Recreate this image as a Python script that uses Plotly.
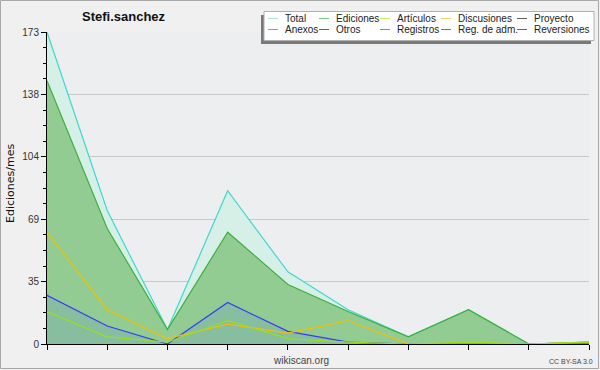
import plotly.graph_objects as go

# ---- data ----
months = ["M01", "M02", "M03", "M04", "M05", "M06", "M07", "M08", "M09", "M10"]
total = [173, 74, 8, 85, 40, 19, 4, 19, 0, 1]
ediciones = [146, 64, 8, 62, 33, 18, 4, 19, 0, 1]
registros = [27, 10, 0, 23, 7, 1, 0, 0, 0, 0]
articulos = [18, 4, 1, 13, 3, 1, 0, 1, 0, 1]
discusiones = [62, 19, 3, 11, 6, 13, 0, 0, 0, 1]

legend_names = ["Total", "Ediciones", "Artículos", "Discusiones", "Proyecto",
                "Anexos", "Otros", "Registros", "Reg. de adm.", "Reversiones"]
legend_colors = ["#a8e4e0", "#7cc87c", "#c4ec5c", "#f8d060", "#606060",
                 "#f08040", "#8040e0", "#8080f0", "#c040e0", "#e03030"]

y_max = 173
y_ticks = [0, 34.6, 69.2, 103.8, 138.4, 173]
y_ticktext = ["0", "35", "69", "104", "138", "173"]

W, H = 600, 370
L, R, T, B = 47, 589, 32, 344

def px(x):
    return (x - L) / (R - L)

def py(y):
    return (B - y) / (B - T)

fig = go.Figure()
fig.add_trace(go.Scatter(x=months, y=total, mode="lines", fill="tozeroy",
                         fillcolor="rgb(214,240,232)", line=dict(color="#40d8cc", width=1.2)))
fig.add_trace(go.Scatter(x=months, y=ediciones, mode="lines", fill="tozeroy",
                         fillcolor="rgb(147,204,147)", line=dict(color="#3cb03c", width=1.2)))
fig.add_trace(go.Scatter(x=months, y=registros, mode="lines", fill="tozeroy",
                         fillcolor="rgba(87,134,212,0.2)", line=dict(color="#3838ff", width=1.2)))
fig.add_trace(go.Scatter(x=months, y=discusiones, mode="lines",
                         line=dict(color="#f0c000", width=1.2)))
fig.add_trace(go.Scatter(x=months, y=articulos, mode="lines",
                         line=dict(color="#98e020", width=1.2)))

minor_vals = [i * 173 / 20 for i in range(21)]

fig.update_layout(
    width=W, height=H,
    margin=dict(l=L, r=W - R, t=T, b=H - B),
    paper_bgcolor="#f0f0f0", plot_bgcolor="#edeef0",
    showlegend=False,
    font=dict(family="DejaVu Sans", size=10, color="#333333"),
)
fig.update_xaxes(type="category", range=[0, len(months) - 1], showgrid=False,
                 showticklabels=False, ticks="outside", ticklen=5, tickcolor="black",
                 showline=True, linecolor="black", linewidth=1, zeroline=False, fixedrange=True)
fig.update_yaxes(range=[0, y_max], tickmode="array", tickvals=y_ticks, ticktext=y_ticktext,
                 ticks="outside", ticklen=5, tickcolor="black", showline=True, linecolor="black",
                 linewidth=1, showgrid=True, gridcolor="#c8c8c8", gridwidth=1, zeroline=False,
                 tickfont=dict(size=10, color="#333333", family="Liberation Sans"),
                 minor=dict(tickmode="array", tickvals=minor_vals, ticks="outside", ticklen=3,
                            tickcolor="black", showgrid=False))

shapes = []
ann = []
# outer border
shapes.append(dict(type="rect", xref="paper", yref="paper", x0=px(0.5), x1=px(W - 1.5),
                   y0=py(H - 1.5), y1=py(0.5), line=dict(color="#a8a8a8", width=1),
                   fillcolor="rgba(0,0,0,0)", layer="above"))
# legend shadow and box
shapes.append(dict(type="rect", xref="paper", yref="paper", x0=px(261), x1=px(591),
                   y0=py(44), y1=py(15), line=dict(width=0), fillcolor="#7a7a7a", layer="above"))
shapes.append(dict(type="rect", xref="paper", yref="paper", x0=px(264), x1=px(594),
                   y0=py(40.5), y1=py(11.5), line=dict(color="#b0b0b0", width=1),
                   fillcolor="white", layer="above"))
sw_x = [268, 319, 380, 441, 517]
txt_x = [284, 335, 396, 457, 533]
row_y = [18.5, 29.5]
for i, (name, col) in enumerate(zip(legend_names, legend_colors)):
    r, c = divmod(i, 5)
    shapes.append(dict(type="line", xref="paper", yref="paper", x0=px(sw_x[c]), x1=px(sw_x[c] + 10),
                       y0=py(row_y[r]), y1=py(row_y[r]), line=dict(color=col, width=1), layer="above"))
    ann.append(dict(text=name, xref="paper", yref="paper", x=px(txt_x[c] - 1), y=py(row_y[r]),
                    xanchor="left", yanchor="middle", showarrow=False,
                    font=dict(size=10, color="#222222", family="Liberation Sans")))

ann.append(dict(text="<b>Stefi.sanchez</b>", xref="paper", yref="paper", x=px(124), y=py(16.5),
                xanchor="center", yanchor="middle", showarrow=False,
                font=dict(size=13, color="#111111", family="Liberation Sans")))
ann.append(dict(text="Ediciones/mes", xref="paper", yref="paper", x=px(10), y=py(184),
                xanchor="center", yanchor="middle", textangle=-90, showarrow=False,
                font=dict(size=11, color="#111111", family="DejaVu Sans")))
ann.append(dict(text="wikiscan.org", xref="paper", yref="paper", x=px(301), y=py(360),
                xanchor="center", yanchor="middle", showarrow=False,
                font=dict(size=10, color="#444444", family="Liberation Sans")))
ann.append(dict(text="CC BY-SA 3.0", xref="paper", yref="paper", x=px(571), y=py(361),
                xanchor="center", yanchor="middle", showarrow=False,
                font=dict(size=7, color="#444444", family="Liberation Sans")))

fig.update_layout(shapes=shapes, annotations=ann)
fig.write_html("out.html", config={"displayModeBar": False},
               post_script="document.body.style.margin='0px';document.body.style.overflow='hidden';")
